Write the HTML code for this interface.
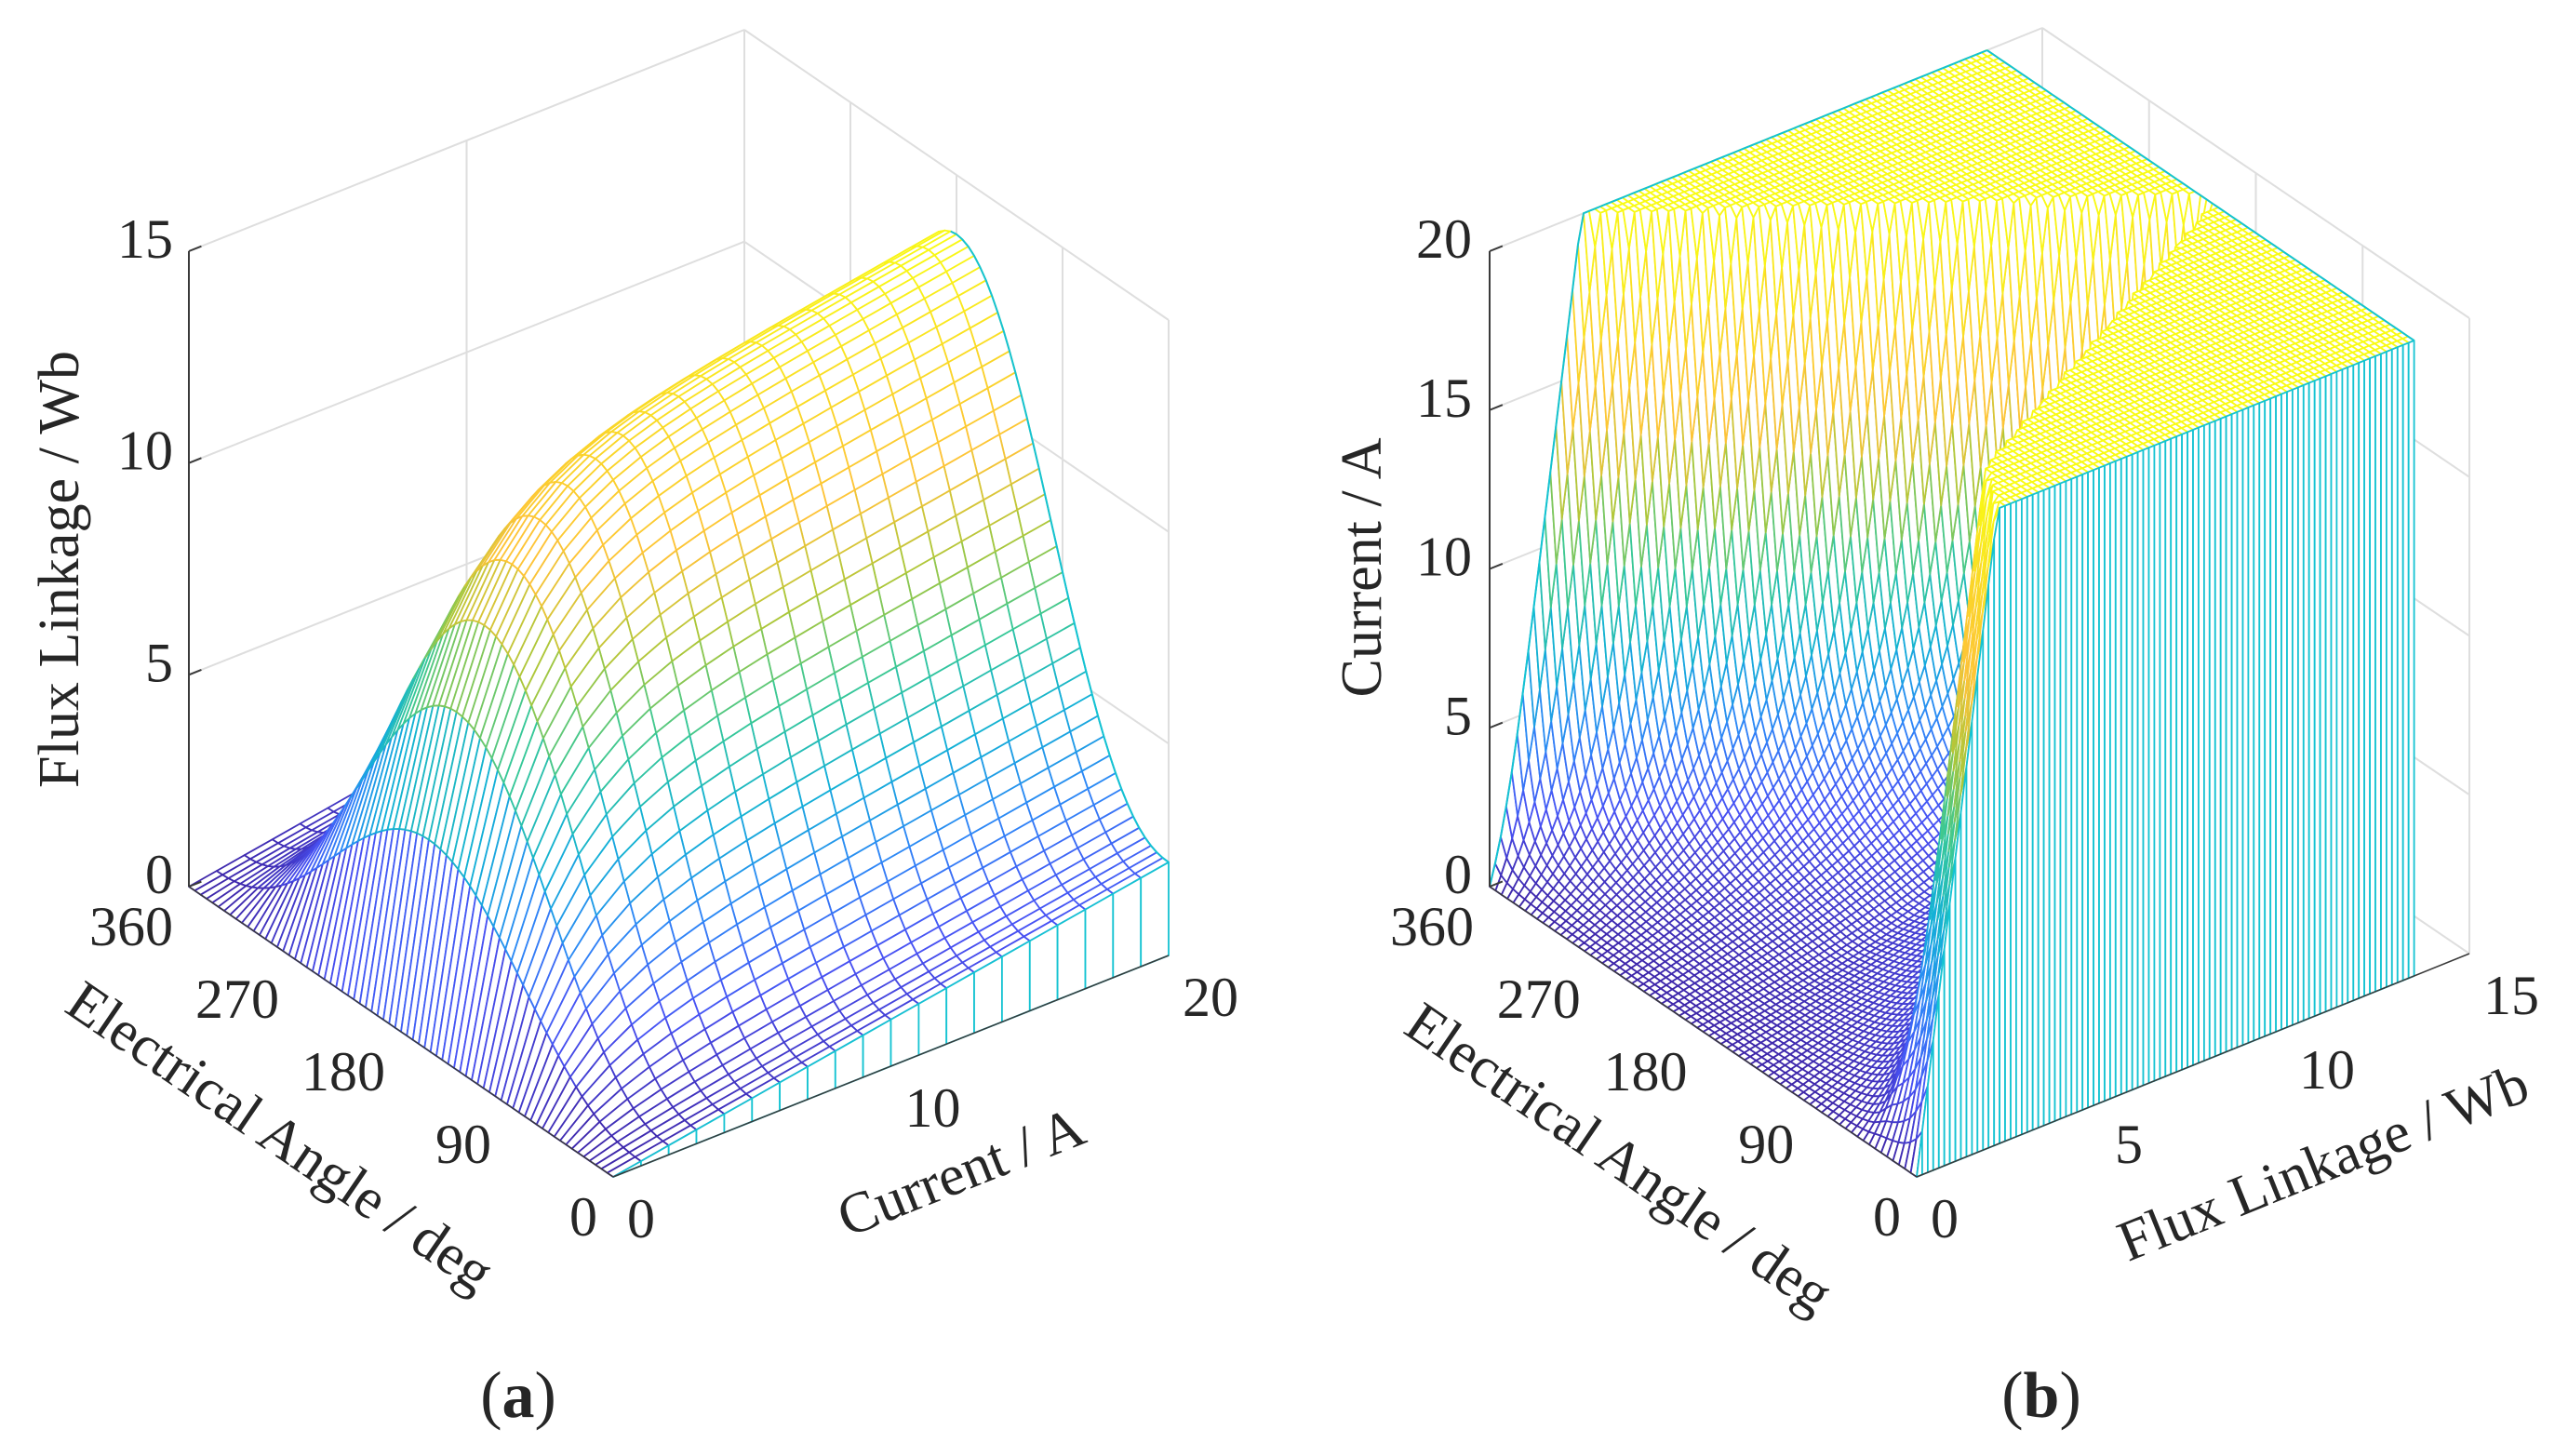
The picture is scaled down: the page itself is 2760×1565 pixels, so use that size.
<!DOCTYPE html>
<html><head><meta charset="utf-8"><title>Flux linkage and current surfaces</title>
<style>
html,body{margin:0;padding:0;background:#fff;}
svg{display:block;}
text{font-family:"Liberation Serif","DejaVu Serif",serif;fill:#262626;}
</style></head>
<body>
<svg id="fig" xmlns="http://www.w3.org/2000/svg" width="2760" height="1565" viewBox="0 0 2760 1565">
<rect x="0" y="0" width="2760" height="1565" fill="#fff"/>
<g id="plotA"></g>
<g id="plotB"></g>
<g id="labels">
 <text x="64" y="612" font-size="62" text-anchor="middle" dominant-baseline="central" transform="rotate(-90 64 612)" textLength="470">Flux Linkage / Wb</text>
 <text x="301" y="1222" font-size="62" text-anchor="middle" dominant-baseline="central" transform="rotate(34.4 301 1222)">Electrical Angle / deg</text>
 <text x="1033" y="1260" font-size="62" text-anchor="middle" dominant-baseline="central" transform="rotate(-21.7 1033 1260)">Current / A</text>
 <text x="557" y="1500" font-size="70" text-anchor="middle" dominant-baseline="central">(<tspan font-weight="bold">a</tspan>)</text>
 <text x="1464" y="610" font-size="62" text-anchor="middle" dominant-baseline="central" transform="rotate(-90 1464 610)">Current / A</text>
 <text x="1740" y="1245" font-size="62" text-anchor="middle" dominant-baseline="central" transform="rotate(34.4 1740 1245)">Electrical Angle / deg</text>
 <text x="2497" y="1250" font-size="62" text-anchor="middle" dominant-baseline="central" transform="rotate(-22 2497 1250)">Flux Linkage / Wb</text>
 <text x="2194" y="1500" font-size="70" text-anchor="middle" dominant-baseline="central">(<tspan font-weight="bold">b</tspan>)</text>
</g>
</svg>
<script>
// ---------- data ----------
const angleDeg = [0,5,10,15,20,25,30,35,40,45,50,55,60,65,70,75,80,85,90,95,100,105,110,115,120,125,130,135,140,145,150,155,160,165,170,175,180,185,190,195,200,205,210,215,220,225,230,235,240,245,250,255,260,265,270,275,280,285,290,295,300,305,310,315,320,325,330,335,340,345,350,355,360];
const currentA = [0,1,2,3,4,5,6,7,8,9,10,11,12,13,14,15,16,17,18,19,20];
const aWeight = [0,0.0007,0.0037,0.0093,0.0178,0.0296,0.0446,0.0630,0.0848,0.1097,0.1379,0.1691,0.2031,0.2396,0.2785,0.3194,0.3619,0.4057,0.4506,0.4961,0.5417,0.5872,0.6320,0.6759,0.7183,0.7590,0.7975,0.8334,0.8667,0.8967,0.9234,0.9464,0.9653,0.9805,0.9912,0.9978,1,0.9978,0.9912,0.9805,0.9653,0.9464,0.9234,0.8967,0.8667,0.8334,0.7975,0.7590,0.7183,0.6759,0.6320,0.5872,0.5417,0.4961,0.4506,0.4057,0.3619,0.3194,0.2785,0.2396,0.2031,0.1691,0.1379,0.1097,0.0848,0.0630,0.0446,0.0296,0.0178,0.0093,0.0037,0.0007,0];
const bFlux20 = [2.2,2.31,2.42,2.54,2.65,2.76,2.87,2.98,3.21,3.60,3.99,4.39,4.78,5.17,5.57,5.96,6.36,6.75,7.14,7.54,7.93,8.32,8.72,9.11,9.50,9.90,10.29,10.68,11.08,11.47,11.86,12.26,12.65,13.04,13.40,13.45,13.5,13.30,12.99,12.68,12.37,12.06,11.76,11.45,11.14,10.83,10.52,10.21,9.90,9.60,9.29,8.98,8.67,8.36,8.05,7.74,7.44,7.13,6.82,6.51,6.20,5.89,5.58,5.28,4.97,4.66,4.35,4.04,3.73,3.42,3.12,2.81,2.5];
const linearL = [0.11];
const fluxSat = [11.4];
const satCurrent = [2.2];
const fluxMaxGrid = [13.5];
const aZTicks = [0,5,10,15];
const bZTicks = [0,5,10,15,20];
const angleTicks = [0,90,180,270,360];
const currentTicks = [0,10,20];
const fluxTicks = [0,5,10,15];

const fluxWb = [];
for (let q = 0; q <= 90; q++) fluxWb.push(+(fluxMaxGrid[0]*q/90).toFixed(3));

// ---------- helpers ----------
const NS = 'http://www.w3.org/2000/svg';
const stops = [[0,[62,38,168]],[0.125,[72,82,244]],[0.25,[46,135,247]],[0.375,[18,177,214]],[0.5,[55,200,151]],[0.625,[171,199,57]],[0.75,[254,195,56]],[0.875,[250,215,40]],[1,[249,251,20]]];
function parula(t){
  t=Math.max(0,Math.min(1,t));
  for(let s=1;s<stops.length;s++){
    if(t<=stops[s][0]){
      const a=stops[s-1],b=stops[s],f=(t-a[0])/(b[0]-a[0]);
      const c=a[1].map((v,k)=>Math.round(v+(b[1][k]-v)*f));
      return 'rgb('+c.join(',')+')';
    }
  }
  return 'rgb(249,251,20)';
}
const satN = 1-Math.exp(-20/satCurrent[0]);
function fluxA(i,w){ return linearL[0]*i + fluxSat[0]*w*(1-Math.exp(-i/satCurrent[0])); }
function fluxB(i,f20){ return linearL[0]*i + (f20-20*linearL[0])*(1-Math.exp(-i/satCurrent[0]))/satN; }
function currentB(psi,f20){
  if(psi>=f20) return 20;
  let lo=0,hi=20;
  for(let it=0;it<45;it++){const m=(lo+hi)/2; if(fluxB(m,f20)<psi) lo=m; else hi=m;}
  return (lo+hi)/2;
}
function ptsStr(arr){return arr.map(p=>p[0].toFixed(1)+','+p[1].toFixed(1)).join(' ');}
function line(g,p1,p2,color,w,name){
  const l=document.createElementNS(NS,'line');
  l.setAttribute('x1',p1[0]);l.setAttribute('y1',p1[1]);l.setAttribute('x2',p2[0]);l.setAttribute('y2',p2[1]);
  l.setAttribute('stroke',color);l.setAttribute('stroke-width',w);
  
  
  g.appendChild(l);
}
function label(g,x,y,txt,anchor,name){
  const t=document.createElementNS(NS,'text');
  t.setAttribute('x',x);t.setAttribute('y',y);t.setAttribute('font-size','60');
  t.setAttribute('text-anchor',anchor);t.setAttribute('dominant-baseline','central');
  t.textContent=txt;
  
  
  g.appendChild(t);
}
function drawQuads(g,quads,name){
  quads.sort((a,b)=>b.d-a.d);
  for(const q of quads){
    const p=document.createElementNS(NS,'polygon');
    p.setAttribute('points',ptsStr(q.pts));
    p.setAttribute('fill','#fff');
    p.setAttribute('stroke',q.c);
    p.setAttribute('stroke-width','1.8');
    p.setAttribute('stroke-linejoin','round');
    
    
    g.appendChild(p);
  }
}
const CYAN='rgb(20,195,210)', GRID='#dedede', AX='#3a3a3a';

// ---------- plot A ----------
(function(){
  const g=document.getElementById('plotA');
  const zMax=15, aMax=360, cMax=20;
  const P=(a,c,z)=>[659-456*a/aMax+597*c/cMax, 1265-312*a/aMax-238*c/cMax-683*z/zMax];
  const depth=(a,c,z)=>509*a/aMax+389*c/cMax-419*z/zMax;
  for(const z of aZTicks){ line(g,P(360,0,z),P(360,20,z),GRID,2,'a-grid-line'); line(g,P(360,20,z),P(0,20,z),GRID,2,'a-grid-line'); }
  for(const c of currentTicks){ line(g,P(360,c,0),P(360,c,15),GRID,2,'a-grid-line'); }
  for(const a of angleTicks){ line(g,P(a,20,0),P(a,20,15),GRID,2,'a-grid-line'); }
  const Z=angleDeg.map((a,i)=>currentA.map(c=>fluxA(c,aWeight[i])));
  let zTop=0; Z.forEach(r=>r.forEach(v=>{if(v>zTop)zTop=v;}));
  const quads=[];
  for(let i=0;i<angleDeg.length-1;i++)for(let j=0;j<currentA.length-1;j++){
    const cs=[[i,j],[i+1,j],[i+1,j+1],[i,j+1]];
    let d=0,zs=0;
    const pts=cs.map(([ii,jj])=>{const z=Z[ii][jj];d+=depth(angleDeg[ii],currentA[jj],z);zs+=z;return P(angleDeg[ii],currentA[jj],z);});
    quads.push({pts,d:d/4,c:parula(zs/4/zTop)});
  }
  drawQuads(g,quads,'a-surface-cell');
  const edge=[];
  for(let i=0;i<angleDeg.length;i++){ if(angleDeg[i]<=185) edge.push(P(angleDeg[i],20,Z[i][currentA.length-1])); }
  const pl=document.createElementNS(NS,'polyline');
  pl.setAttribute('points',ptsStr(edge));pl.setAttribute('fill','none');pl.setAttribute('stroke',CYAN);pl.setAttribute('stroke-width','2');
  
  
  g.appendChild(pl);
  const wq=[];
  for(let j=0;j<currentA.length-1;j++){
    wq.push({pts:[P(0,currentA[j],0),P(0,currentA[j+1],0),P(0,currentA[j+1],Z[0][j+1]),P(0,currentA[j],Z[0][j])],d:-j,c:CYAN});
  }
  drawQuads(g,wq,'a-curtain-cell');
  line(g,P(360,0,0),P(360,0,15),AX,2,'a-z-axis');
  line(g,P(360,0,0),P(0,0,0),AX,1.5,'a-angle-axis');
  line(g,P(0,0,0),P(0,20,0),AX,1.5,'a-current-axis');
  for(const z of aZTicks){ const p=P(360,0,z),q=P(360,0.45,z); line(g,p,q,AX,2,'a-z-tick'); label(g,186,p[1]-13,String(z),'end','a-z-tick-label'); }
  for(const a of angleTicks){ const p=P(a,0,0); label(g,p[0]-17,p[1]+43,String(a),'end','a-angle-tick-label'); }
  for(const c of currentTicks){ const p=P(0,c,0); label(g,p[0]+15,p[1]+45,String(c),'start','a-current-tick-label'); }
})();

// ---------- plot B ----------
(function(){
  const g=document.getElementById('plotB');
  const zMax=20, aMax=360, fMax=15;
  const P=(a,f,z)=>[2060-459*a/aMax+594*f/fMax, 1265-312*a/aMax-240*f/fMax-683*z/zMax];
  const depth=(a,f,z)=>509*a/aMax+389*f/fMax-419*z/zMax;
  for(const z of bZTicks){ line(g,P(360,0,z),P(360,15,z),GRID,2,'b-grid-line'); line(g,P(360,15,z),P(0,15,z),GRID,2,'b-grid-line'); }
  for(const f of fluxTicks){ line(g,P(360,f,0),P(360,f,20),GRID,2,'b-grid-line'); }
  for(const a of angleTicks){ line(g,P(a,15,0),P(a,15,20),GRID,2,'b-grid-line'); }
  const Z=angleDeg.map((a,i)=>fluxWb.map(psi=>currentB(psi,bFlux20[i])));
  const quads=[];
  for(let i=0;i<angleDeg.length-1;i++)for(let j=0;j<fluxWb.length-1;j++){
    const cs=[[i,j],[i+1,j],[i+1,j+1],[i,j+1]];
    let d=0,zs=0;
    const pts=cs.map(([ii,jj])=>{const z=Z[ii][jj];d+=depth(angleDeg[ii],fluxWb[jj],z);zs+=z;return P(angleDeg[ii],fluxWb[jj],z);});
    quads.push({pts,d:d/4,c:parula(zs/4/20)});
  }
  drawQuads(g,quads,'b-surface-cell');
  const n=angleDeg.length-1, m=fluxWb.length-1;
  const e1=fluxWb.map((f,j)=>P(360,f,Z[n][j]));
  const e2=angleDeg.map((a,i)=>P(a,fluxWb[m],Z[i][m]));
  for(const [arr,nm] of [[e1,'b-edge-angle-360'],[e2,'b-edge-flux-max']]){
    const pl=document.createElementNS(NS,'polyline');
    pl.setAttribute('points',ptsStr(arr));pl.setAttribute('fill','none');pl.setAttribute('stroke',CYAN);pl.setAttribute('stroke-width','2');
    
    
    g.appendChild(pl);
  }
  const wq=[];
  for(let j=0;j<fluxWb.length-1;j++){
    wq.push({pts:[P(0,fluxWb[j],0),P(0,fluxWb[j+1],0),P(0,fluxWb[j+1],Z[0][j+1]),P(0,fluxWb[j],Z[0][j])],d:-j,c:CYAN});
  }
  drawQuads(g,wq,'b-curtain-cell');
  line(g,P(360,0,0),P(360,0,20),AX,2,'b-z-axis');
  line(g,P(360,0,0),P(0,0,0),AX,1.5,'b-angle-axis');
  line(g,P(0,0,0),P(0,15,0),AX,1.5,'b-flux-axis');
  for(const z of bZTicks){ const p=P(360,0,z),q=P(360,0.35,z); line(g,p,q,AX,2,'b-z-tick'); label(g,1582,p[1]-13,String(z),'end','b-z-tick-label'); }
  for(const a of angleTicks){ const p=P(a,0,0); label(g,p[0]-17,p[1]+43,String(a),'end','b-angle-tick-label'); }
  for(const f of fluxTicks){ const p=P(0,f,0); label(g,p[0]+15,p[1]+45,String(f),'start','b-flux-tick-label'); }
})();
</script>
</body></html>
